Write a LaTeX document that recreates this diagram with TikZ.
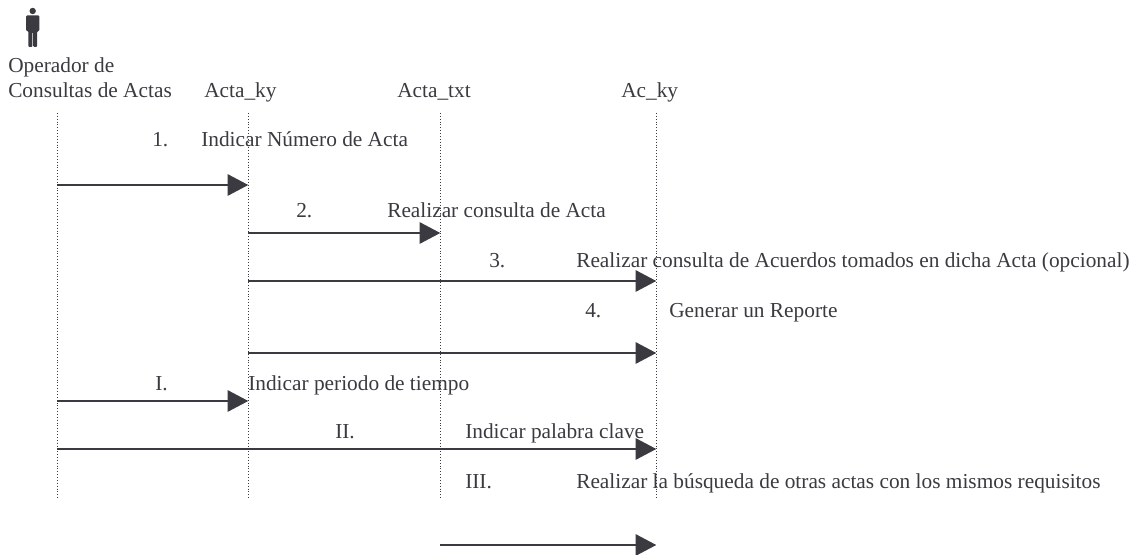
\documentclass[tikz,border=0pt]{standalone}
\usepackage{fontspec}
\setmainfont{Liberation Serif}
\usepackage{xcolor}
\usetikzlibrary{
    positioning,
    arrows.meta
}
\definecolor{printGray}{RGB}{58, 58, 64}
\tikzset{
    lifeline/.style={printGray, line width=0.7pt, dash pattern=on 0.75pt off 1.4pt},
    message/.style={-{Triangle[length=15.5pt, width=16pt]}, printGray, line width=1.5pt, shorten >=-0.2pt},
    label/.style={anchor=base west, inner sep=0pt, yshift=-1.1pt, text=printGray, font=\fontsize{16}{16}\selectfont},
}

\begin{document}
\begin{tikzpicture}[x=0.75pt, y=-0.75pt]
        \useasboundingbox (0,0) rectangle (1132,555);

        % Actor
        \fill[printGray] (32.7,11) circle (3.2);
        \fill[printGray, rounded corners=0.8] (26,15.5) -- (39.4,15.5) -- (39.4,31) -- (37.2,31) -- (37.2,47) -- (33.2,47) -- (33.2,32)
            -- (32.4,32) -- (32.4,47) -- (28.4,47) -- (28.4,31) -- (26,31) -- cycle;

        % Header
        \node[label] (operador) at (8,71) {Operador de};
        \node[label] (consultas) at (8,96) {Consultas de Actas};
        \node[label] (actaKy) at (204,96) {Acta\_ky};
        \node[label] (actaTxt) at (397,96) {Acta\_txt};
        \node[label] (acKy) at (621,96) {Ac\_ky};

        % Lifelines
        \coordinate (opTop) at (57,113);
        \coordinate (kyTop) at (248,113);
        \coordinate (txtTop) at (440,113);
        \coordinate (acTop) at (656,113);
        \coordinate (opBot) at (57,498);
        \coordinate (kyBot) at (248,498);
        \coordinate (txtBot) at (440,498);
        \coordinate (acBot) at (656,498);
        \foreach \a/\b in {opTop/opBot, kyTop/kyBot, txtTop/txtBot, acTop/acBot}
            \draw[lifeline] (\a) -- (\b);

        % Messages
        \coordinate (m1a) at (57,185);
        \coordinate (m1b) at (248,185);
        \coordinate (m2a) at (248,233);
        \coordinate (m2b) at (440,233);
        \coordinate (m3a) at (248,281);
        \coordinate (m3b) at (656,281);
        \coordinate (m4a) at (248,353);
        \coordinate (m4b) at (656,353);
        \coordinate (mIa) at (57,401);
        \coordinate (mIb) at (248,401);
        \coordinate (mIIa) at (57,449);
        \coordinate (mIIb) at (656,449);
        \coordinate (mIIIa) at (440,545);
        \coordinate (mIIIb) at (656,545);
        \foreach \a/\b in {m1a/m1b, m2a/m2b, m3a/m3b, m4a/m4b, mIa/mIb, mIIa/mIIb, mIIIa/mIIIb}
            \draw[message] (\a) -- (\b);

        % Labels
        \node[label] (n1) at (152,145) {1.};
        \node[label] (t1) at (201,145) {Indicar Número de Acta};
        \node[label] (n2) at (296,216) {2.};
        \node[label] (t2) at (387,216) {Realizar consulta de Acta};
        \node[label] (n3) at (489,266) {3.};
        \node[label] (t3) at (576,266) {Realizar consulta de Acuerdos tomados en dicha Acta (opcional)};
        \node[label] (n4) at (585,316) {4.};
        \node[label] (t4) at (669,316) {Generar un Reporte};
        \node[label] (nI) at (155,389) {I.};
        \node[label] (tI) at (248,389) {Indicar periodo de tiempo};
        \node[label] (nII) at (335,437) {II.};
        \node[label] (tII) at (465,437) {Indicar palabra clave};
        \node[label] (nIII) at (465,487) {III.};
        \node[label] (tIII) at (576,487) {Realizar la búsqueda de otras actas con los mismos requisitos};
    \end{tikzpicture}
\end{document}
